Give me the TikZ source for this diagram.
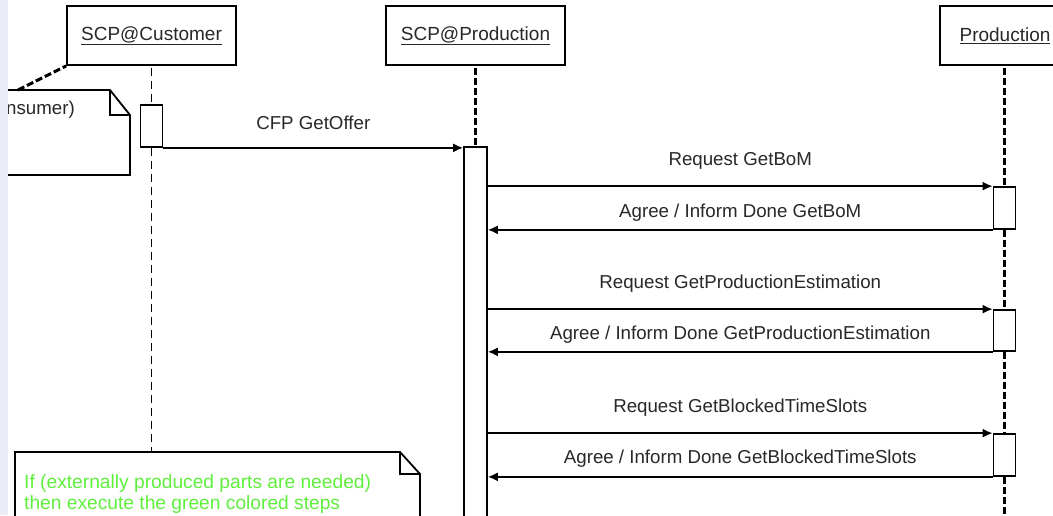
\documentclass[tikz,border=0pt]{standalone}
\usepackage{fontspec}
\setmainfont{Liberation Sans}
\usetikzlibrary{arrows.meta}
\definecolor{notegreen}{RGB}{95,240,60}
\definecolor{stripcol}{RGB}{236,236,248}
\definecolor{txt}{RGB}{40,40,40}
\begin{document}
\begin{tikzpicture}[x=1pt,y=-1pt,
  lbl/.style={font=\fontsize{18.7}{20}\selectfont, text=txt, inner sep=0pt},
  head/.style={draw, line width=1.8pt, fill=white, minimum height=59pt, inner sep=0pt,
    font=\fontsize{19}{20}\selectfont, text=txt},
  act/.style={draw, line width=1.7pt, fill=white, minimum width=22pt, inner sep=0pt},
  msg/.style={line width=1.7pt, -{Latex[length=10pt,width=9pt]}},
  lifethin/.style={line width=1.6pt, dash pattern=on 8pt off 5pt},
  lifethick/.style={line width=3pt, dash pattern=on 7pt off 3pt},
  notebox/.style={line width=1.8pt, fill=white},
]
\useasboundingbox (0,0) rectangle (1053,515);
\clip (0,0) rectangle (1053,515);
\fill[white] (0,0) rectangle (1053,515);

% lifelines
\coordinate (custtop) at (151.5,68);
\coordinate (custend) at (151.5,452);
\coordinate (prodtop) at (475.5,68);
\coordinate (rtop) at (1004.5,68);
\coordinate (rend) at (1004.5,520);

% heads
\node[head, minimum width=169pt] (cust) at (151.5,35.5) {\underline{SCP@Customer}};
\node[head, minimum width=179pt] (scpprod) at (475.5,35.5) {\underline{SCP@Production}};
\node[head, minimum width=130pt] (prod) at (1005,35.5) {\underline{Production}};

% activations
\node[act, minimum height=42pt] (cact) at (151.5,126) {};
\node[act, minimum width=23pt, minimum height=400pt] (pact) at (475.5,347) {};
\node[act, minimum height=42pt] (r1) at (1004.5,208) {};
\node[act, minimum height=41pt] (r2) at (1004.5,330.5) {};
\node[act, minimum height=42pt] (r3) at (1004.5,455) {};

\draw[lifethin] (custtop) -- (cact.north);
\draw[lifethin] (cact.south) -- (custend);
\draw[lifethick] (prodtop) -- (pact.north);
\draw[lifethick] (rtop) -- (r1.north);
\draw[lifethick] (r1.south) -- (r2.north);
\draw[lifethick] (r2.south) -- (r3.north);
\draw[lifethick] (r3.south) -- (rend);

% consumer note
\coordinate (n1) at (-10,90);
\coordinate (n2) at (110,90);
\coordinate (n3) at (130,115);
\coordinate (n4) at (130,175);
\coordinate (n5) at (-10,175);
\draw[notebox] (n1) -- (n2) -- (n3) -- (n4) -- (n5) -- cycle;
\draw[line width=1.6pt] (n2) -- (110,115) -- (n3);
\node[lbl, anchor=west] (ctext) at (6,110) {nsumer)};
\coordinate (nlink) at (18,90);
\draw[lifethick] (nlink) -- (cust.south west);

% green note
\coordinate (g1) at (15,452);
\coordinate (g2) at (400,452);
\coordinate (g3) at (420,474);
\coordinate (g4) at (420,530);
\coordinate (g5) at (15,530);
\draw[notebox] (g1) -- (g2) -- (g3) -- (g4) -- (g5) -- cycle;
\draw[line width=1.6pt] (g2) -- (400,474) -- (g3);
\node[font=\fontsize{19.2}{21}\selectfont, text=notegreen, anchor=north west, align=left, inner sep=0pt] (gtext) at (24,474)
  {If (externally produced parts are needed)\\then execute the green colored steps};

% messages
\draw[msg] (cact.south east) -- node[lbl, midway, yshift=25pt] (m0) {CFP GetOffer} (cact.south east -| pact.west);
\draw[msg] (pact.east |- r1.north) -- node[lbl, midway, yshift=25pt] (m1) {Request GetBoM} (r1.north west);
\draw[msg] (r1.south west) -- node[lbl, midway, yshift=17pt] (m2) {Agree / Inform Done GetBoM} (pact.east |- r1.south);
\draw[msg] (pact.east |- r2.north) -- node[lbl, midway, yshift=25pt] (m3) {Request GetProductionEstimation} (r2.north west);
\draw[msg] (r2.south west) -- node[lbl, midway, yshift=17pt] (m4) {Agree / Inform Done GetProductionEstimation} (pact.east |- r2.south);
\draw[msg] (pact.east |- r3.north) -- node[lbl, midway, yshift=25pt] (m5) {Request GetBlockedTimeSlots} (r3.north west);
\draw[msg] (r3.south west) -- node[lbl, midway, yshift=18pt] (m6) {Agree / Inform Done GetBlockedTimeSlots} (pact.east |- r3.south);

% left strip
\fill[stripcol] (0,0) rectangle (8,515);
\end{tikzpicture}
\end{document}
